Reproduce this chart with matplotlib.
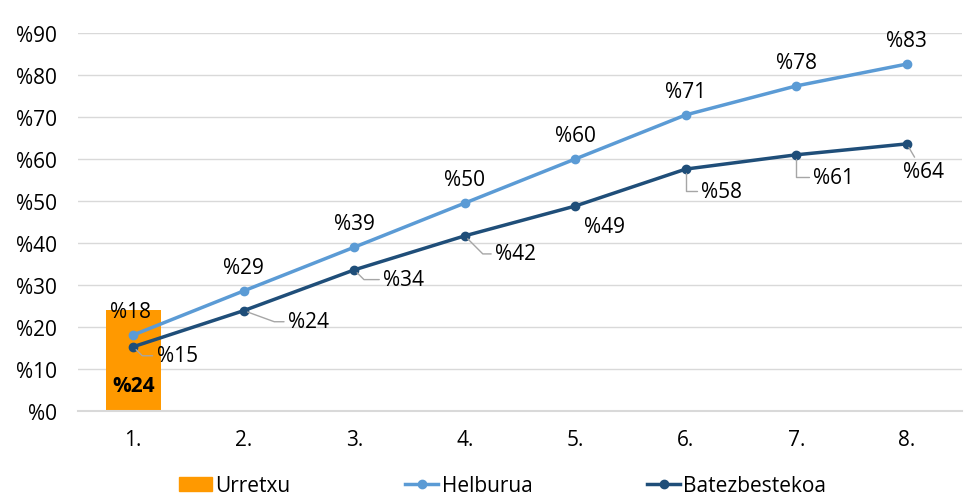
import matplotlib
matplotlib.use("Agg")
import matplotlib.pyplot as plt
from matplotlib.lines import Line2D
from matplotlib.patches import Patch

plt.rcParams['font.family'] = ['Open Sans', 'DejaVu Sans']

categories = ["1.", "2.", "3.", "4.", "5.", "6.", "7.", "8."]
urretxu = [24]
helburua = [18.1, 28.6, 39.0, 49.5, 60.0, 70.5, 77.4, 82.6]
batez = [15.3, 23.9, 33.6, 41.7, 48.8, 57.6, 61.0, 63.6]
helburua_labels = ["%18", "%29", "%39", "%50", "%60", "%71", "%78", "%83"]
batez_labels = ["%15", "%24", "%34", "%42", "%49", "%58", "%61", "%64"]
yticks = list(range(0, 91, 10))

c_orange = "#FF9900"
c_light = "#5B9BD5"
c_dark = "#1F4E79"
FS = 15

fig = plt.figure(figsize=(9.76, 5.02), dpi=100)
ax = fig.add_axes([78/976, 90/502, 884/976, 378/502])

x = list(range(len(categories)))
ax.bar([0], urretxu, width=0.5, color=c_orange, zorder=2)
ax.text(0, urretxu[0] * 0.25, "%" + str(urretxu[0]), ha="center", va="center",
        fontsize=FS, fontweight="bold", color="black", zorder=5)

ax.plot(x, helburua, color=c_light, lw=2.5, marker="o", ms=6, zorder=3)
ax.plot(x, batez, color=c_dark, lw=2.5, marker="o", ms=6, zorder=4)

# Helburua labels above
for i, (v, lab) in enumerate(zip(helburua, helburua_labels)):
    dx = -2 if i == 0 else 0
    ax.annotate(lab, (i, v), xytext=(dx, 17), textcoords="offset points",
                ha="center", va="center", fontsize=FS, zorder=6)

# Batezbestekoa labels with leader lines
offsets = [(17, -6.5), (32, -8), (21, -7), (22, -13), (6, -15), (11, -16), (12, -16), (-3, -20)]
conns = ["angle,angleA=0,angleB=135", "angle,angleA=0,angleB=160",
         "angle,angleA=0,angleB=135", "angle,angleA=0,angleB=135",
         None, "angle,angleA=0,angleB=90", "angle,angleA=0,angleB=90", "arc3"]
for i, (v, lab) in enumerate(zip(batez, batez_labels)):
    kw = {}
    if conns[i] is not None:
        kw["arrowprops"] = dict(arrowstyle="-", color="#a6a6a6", lw=1,
                                connectionstyle=conns[i], shrinkA=1, shrinkB=3)
    ax.annotate(lab, (i, v), xytext=offsets[i], textcoords="offset points",
                ha="left", va="center", fontsize=FS, zorder=6, **kw)

ax.set_xlim(-0.5, len(categories) - 0.5)
ax.set_ylim(0, 90)
ax.set_yticks(yticks)
ax.set_yticklabels(["%" + str(t) for t in yticks], fontsize=FS)
ax.set_xticks(x)
ax.set_xticklabels(categories, fontsize=FS)
ax.tick_params(axis="y", length=0, pad=15)
ax.tick_params(axis="x", length=0, pad=13)
ax.yaxis.grid(True, color="#d9d9d9", lw=1, zorder=0)
ax.set_axisbelow(True)
for s in ["top", "right", "left"]:
    ax.spines[s].set_visible(False)
ax.spines["bottom"].set_color("#d9d9d9")
ax.spines["bottom"].set_linewidth(1.5)

handles = [Patch(color=c_orange),
           Line2D([0], [0], color=c_light, lw=2.5, marker="o", ms=6),
           Line2D([0], [0], color=c_dark, lw=2.5, marker="o", ms=6)]
fig.legend(handles, ["Urretxu", "Helburua", "Batezbestekoa"], loc="center",
           bbox_to_anchor=(0.515, 0.03), ncol=3, frameon=False, fontsize=FS,
           columnspacing=5.5, handlelength=1.6, handletextpad=0.15)

fig.savefig("out.png", dpi=100)
